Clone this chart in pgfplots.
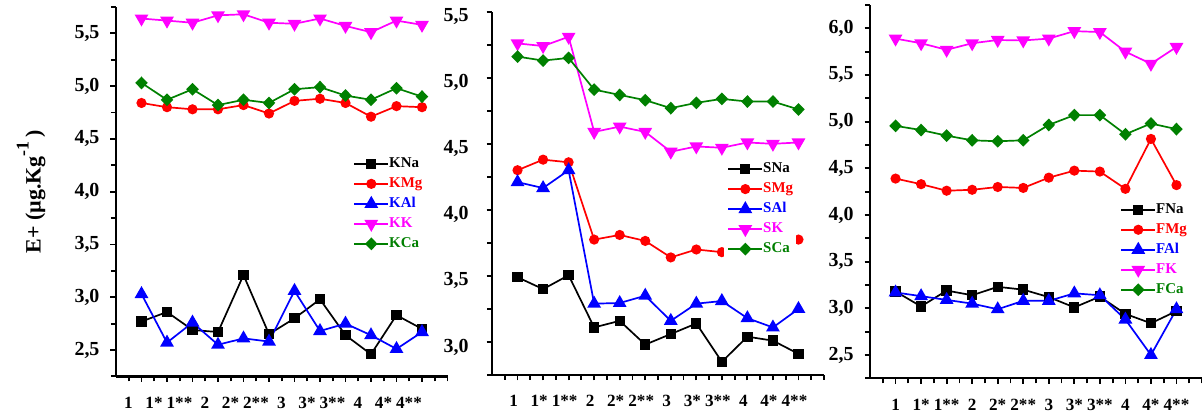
\documentclass[border=0pt]{standalone}
\usepackage{pgfplots}
\pgfplotsset{compat=1.18}
\usepackage{pgfplotstable}
\usepackage{fontspec}
\setmainfont{Liberation Serif}
\newlength{\px}\setlength{\px}{0.5bp}
\definecolor{cgreen}{RGB}{0,128,0}
\definecolor{cmag}{RGB}{255,0,255}

\pgfplotstableread{
x Na Mg Al K Ca
1 2.77 4.84 3.03 5.64 5.03
2 2.86 4.80 2.57 5.62 4.87
3 2.69 4.78 2.76 5.60 4.97
4 2.67 4.78 2.55 5.67 4.82
5 3.21 4.82 2.61 5.68 4.87
6 2.65 4.74 2.58 5.60 4.84
7 2.80 4.86 3.06 5.59 4.97
8 2.98 4.88 2.68 5.64 4.99
9 2.64 4.84 2.75 5.57 4.91
10 2.46 4.71 2.64 5.51 4.87
11 2.83 4.81 2.51 5.62 4.98
12 2.70 4.80 2.67 5.58 4.90
}\tabK

\pgfplotstableread{
x Na Mg Al K Ca
1 3.49 4.30 4.21 5.26 5.16
2 3.40 4.38 4.165 5.24 5.13
3 3.505 4.36 4.30 5.31 5.15
4 3.11 3.775 3.29 4.59 4.91
5 3.16 3.81 3.295 4.63 4.87
6 2.98 3.765 3.35 4.59 4.83
7 3.06 3.64 3.16 4.44 4.77
8 3.14 3.70 3.29 4.48 4.81
9 2.85 3.68 3.31 4.47 4.84
10 3.04 3.77 3.18 4.51 4.82
11 3.01 3.78 3.11 4.50 4.82
12 2.91 3.775 3.25 4.51 4.76
}\tabS

\pgfplotstableread{
x Na Mg Al K Ca
1 3.18 4.39 3.17 5.89 4.955
2 3.02 4.33 3.13 5.84 4.91
3 3.19 4.26 3.09 5.77 4.85
4 3.14 4.27 3.05 5.84 4.80
5 3.23 4.30 2.99 5.875 4.79
6 3.20 4.29 3.08 5.87 4.80
7 3.12 4.40 3.08 5.89 4.965
8 3.01 4.475 3.16 5.97 5.07
9 3.125 4.465 3.14 5.96 5.07
10 2.94 4.28 2.88 5.75 4.865
11 2.84 4.815 2.50 5.62 4.98
12 2.97 4.32 2.99 5.80 4.92
}\tabF

\pgfplotsset{
 panel/.style={
  scale only axis,
  axis lines=left,
  axis line style={-, line width=1.15bp},
  tick align=outside,
  major tick length=5.5\px,
  minor tick length=5\px,
  every tick/.style={black, line width=0.9bp},
  xmin=0, xmax=13,
  xtick={1,...,12},
  xticklabels={1,1*,1**,2,2*,2**,3,3*,3**,4,4*,4**},
  minor xtick={0.5,1.5,...,12.5,13},
  xticklabel style={font=\fontsize{8.6}{9}\selectfont\bfseries, yshift=-8\px},
  yticklabel style={font=\fontsize{10}{11}\selectfont\bfseries, xshift=-4\px},
  /pgf/number format/.cd, fixed, fixed zerofill, precision=1, use comma, assume math mode=true,
  /pgfplots/.cd,
  ytick={2.5,3.0,...,6.0},
  clip=false,
  legend cell align=left,
  legend style={draw=none, fill=white, inner sep=3\px, anchor=north west,
    font=\fontsize{7.5}{8}\selectfont\bfseries,
    nodes={inner sep=0pt, text height=10\px, text depth=3\px},
    row sep=7\px},
 },
 sNa/.style={black, line width=0.85bp, mark=square*, mark size=4.3\px, mark options={solid}},
 sMg/.style={red, line width=0.85bp, mark=*, mark size=4.2\px, mark options={solid}},
 sAl/.style={blue, line width=0.85bp, mark=triangle*, mark size=6.3\px, mark options={solid}},
 sK/.style={cmag, line width=0.85bp, mark=triangle*, mark size=6.3\px, mark options={solid, rotate=180}},
 sCa/.style={cgreen, line width=0.85bp, mark=diamond*, mark size=5.2\px, mark options={solid, xscale=1.3}},
}

\begin{document}
\begin{tikzpicture}
\useasboundingbox (0,0) rectangle (1202\px,-419\px);

\begin{axis}[panel,
  at={(116\px,-376.4\px)}, anchor=south west,
  width=331.5\px, height=369.5\px,
  ymin=2.25, ymax=5.75,
  minor ytick={2.25,2.5,...,5.75},
  xticklabel style={xshift=-13\px},
  ylabel={E+ (µg.Kg\raisebox{0.55em}{\fontsize{9}{9}\selectfont -1}\,)},
  ylabel style={at={(axis description cs:-0.227,0.5)}, anchor=base, font=\fontsize{11}{12}\selectfont\bfseries},
  legend style={at={(axis description cs:0.706,0.602)}},
]
\addplot[sNa] table[x=x,y=Na]{\tabK}; \addlegendentry{\textcolor{black}{KNa}}
\addplot[sMg] table[x=x,y=Mg]{\tabK}; \addlegendentry{\textcolor{red}{KMg}}
\addplot[sAl] table[x=x,y=Al]{\tabK}; \addlegendentry{\textcolor{blue}{KAl}}
\addplot[sK] table[x=x,y=K]{\tabK}; \addlegendentry{\textcolor{cmag}{KK}}
\addplot[sCa] table[x=x,y=Ca]{\tabK}; \addlegendentry{\textcolor{cgreen}{KCa}}
\end{axis}

\begin{axis}[panel,
  at={(492\px,-375\px)}, anchor=south west,
  width=332\px, height=363.3\px,
  ymin=2.75, ymax=5.5,
  minor ytick={2.75,3.0,...,5.5},
  xticklabel style={xshift=-4\px},
  yticklabel style={xshift=-7\px, yshift=-5\px},
  legend style={at={(axis description cs:0.699,0.594)}},
]
\addplot[sNa] table[x=x,y=Na]{\tabS}; \addlegendentry{\textcolor{black}{SNa}}
\addplot[sMg] table[x=x,y=Mg]{\tabS}; \addlegendentry{\textcolor{red}{SMg}}
\addplot[sAl] table[x=x,y=Al]{\tabS}; \addlegendentry{\textcolor{blue}{SAl}}
\addplot[sK] table[x=x,y=K]{\tabS}; \addlegendentry{\textcolor{cmag}{SK}}
\addplot[sCa] table[x=x,y=Ca]{\tabS}; \addlegendentry{\textcolor{cgreen}{SCa}}
\end{axis}

\begin{axis}[panel,
  at={(870\px,-378.3\px)}, anchor=south west,
  width=332\px, height=373.3\px,
  ymin=2.25, ymax=6.25,
  minor ytick={2.25,2.5,...,6.25},
  legend style={at={(axis description cs:0.744,0.478)}},
]
\addplot[sNa] table[x=x,y=Na]{\tabF}; \addlegendentry{\textcolor{black}{FNa}}
\addplot[sMg] table[x=x,y=Mg]{\tabF}; \addlegendentry{\textcolor{red}{FMg}}
\addplot[sAl] table[x=x,y=Al]{\tabF}; \addlegendentry{\textcolor{blue}{FAl}}
\addplot[sK] table[x=x,y=K]{\tabF}; \addlegendentry{\textcolor{cmag}{FK}}
\addplot[sCa] table[x=x,y=Ca]{\tabF}; \addlegendentry{\textcolor{cgreen}{FCa}}
\end{axis}
\end{tikzpicture}
\end{document}
